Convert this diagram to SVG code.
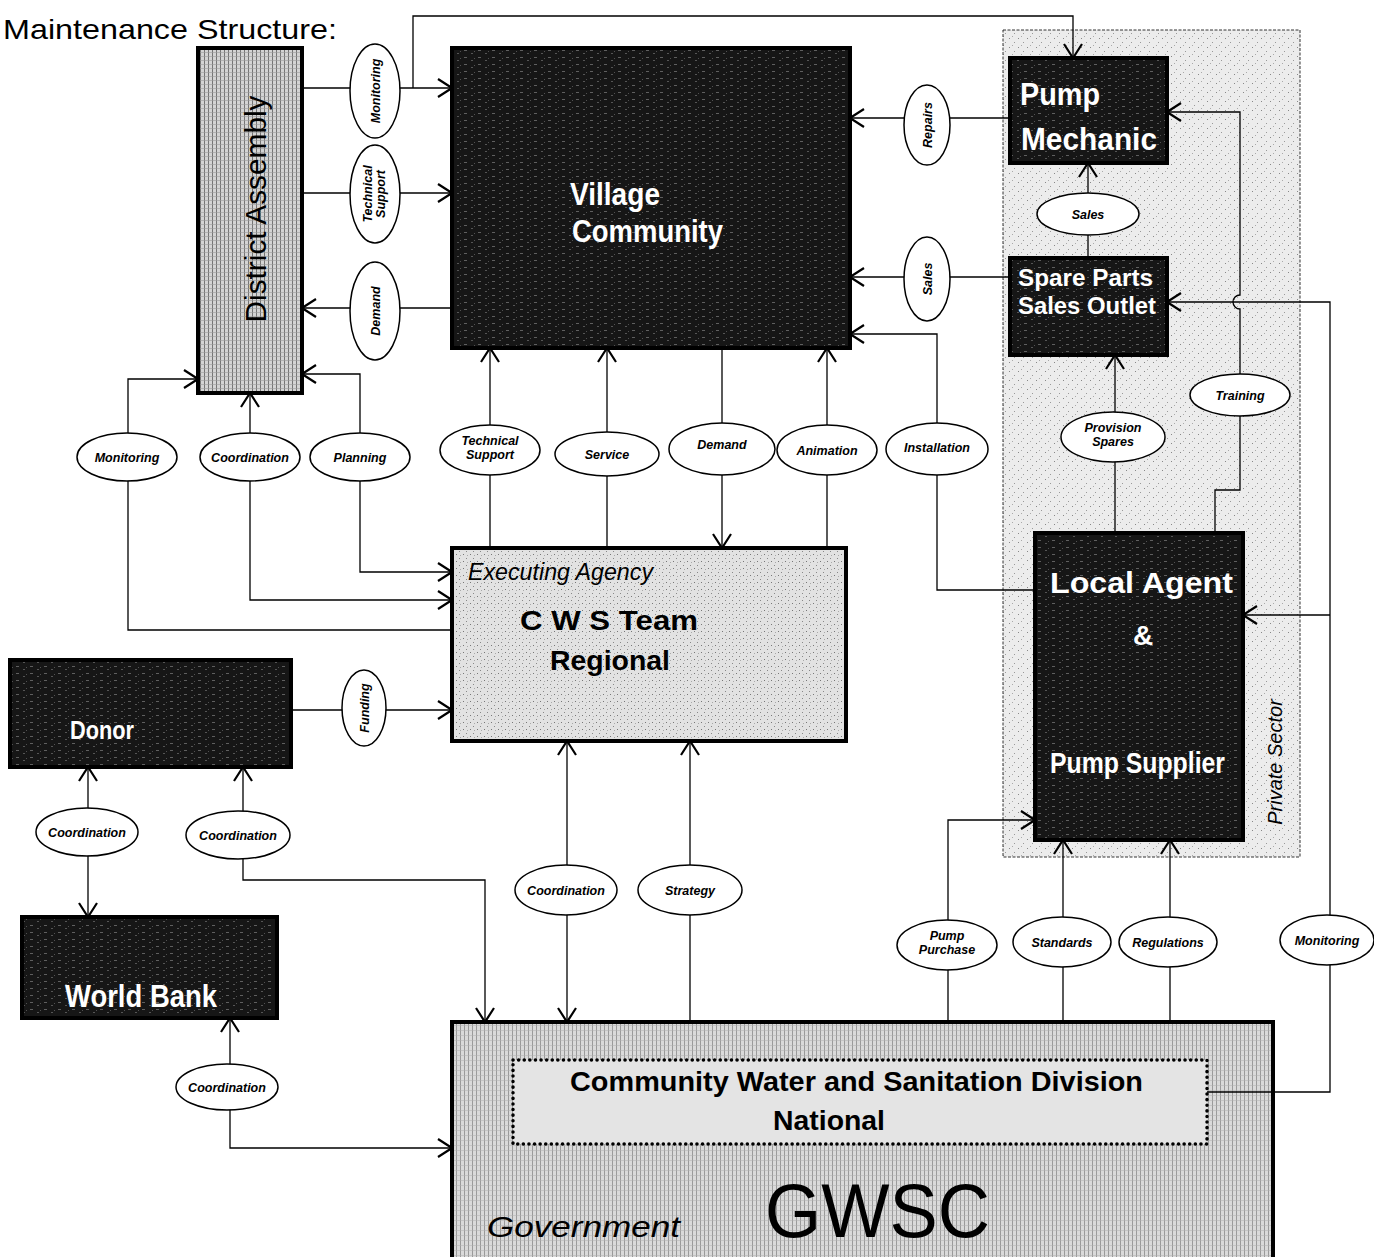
<svg xmlns="http://www.w3.org/2000/svg" width="1374" height="1257" viewBox="0 0 1374 1257">
<style>
.box{stroke:#000;stroke-width:4}
.dk{fill:url(#dark)}
.wt{fill:#fff;font-family:"Liberation Sans",Arial,sans-serif;font-weight:bold}
.bk{fill:#000;font-family:"Liberation Sans",Arial,sans-serif}
.ln{fill:none;stroke:#000;stroke-width:1.3}
.ar{marker-end:url(#ah)}
.ar2{marker-start:url(#ah);marker-end:url(#ah)}
.lbl ellipse{fill:#fff;stroke:#000;stroke-width:1.5}
.lbl text{font-family:"Liberation Sans",Arial,sans-serif;font-style:italic;font-weight:bold;font-size:12.5px;text-anchor:middle;fill:#000}
</style>
<defs>
<marker id="ah" viewBox="0 0 16 20" refX="15" refY="10" markerWidth="16" markerHeight="20" markerUnits="userSpaceOnUse" orient="auto-start-reverse">
<path d="M1,1 L15,10 L1,19" fill="none" stroke="#000" stroke-width="2.2"/>
</marker>
<pattern id="grid" width="4" height="4" patternUnits="userSpaceOnUse">
<rect width="4" height="4" fill="#d4d4d4"/>
<path d="M0.5,0 V4" stroke="#6a6a6a" stroke-width="0.9"/>
<path d="M0,0.5 H4" stroke="#9a9a9a" stroke-width="0.6"/>
</pattern>
<pattern id="grid2" width="4" height="5" patternUnits="userSpaceOnUse">
<rect width="4" height="5" fill="#dadada"/>
<path d="M0.5,0 V5" stroke="#8a8a8a" stroke-width="0.8"/>
<path d="M0,0.5 H4" stroke="#b0b0b0" stroke-width="0.5"/>
</pattern>
<pattern id="dark" width="14" height="7" patternUnits="userSpaceOnUse">
<rect width="14" height="7" fill="#161616"/>
<rect x="2" y="1" width="3" height="0.9" fill="#fff" opacity="0.35"/>
<rect x="9" y="4" width="2" height="0.9" fill="#fff" opacity="0.3"/>
<rect x="12" y="2" width="1" height="1" fill="#fff" opacity="0.25"/>
</pattern>
<pattern id="speck" width="9" height="9" patternUnits="userSpaceOnUse">
<rect width="9" height="9" fill="#ececec"/>
<rect x="1" y="2" width="1" height="1" fill="#888"/>
<rect x="6" y="6" width="1" height="1" fill="#999"/>
<rect x="4" y="0" width="1" height="1" fill="#aaa"/>
</pattern>
<pattern id="speck2" width="7" height="7" patternUnits="userSpaceOnUse">
<rect width="7" height="7" fill="#e2e2e2"/>
<rect x="1" y="1" width="1" height="1" fill="#777"/>
<rect x="4" y="5" width="1" height="1" fill="#888"/>
<rect x="5" y="2" width="1" height="1" fill="#aaa"/>
</pattern>
</defs>

<rect width="1374" height="1257" fill="#fff"/>

<g id="title">
<text class="bk" x="3" y="39" font-size="28" textLength="334" lengthAdjust="spacingAndGlyphs">Maintenance Structure:</text>
</g>

<g id="private-sector">
<rect x="1003" y="30" width="297" height="827" fill="url(#speck)" stroke="#333" stroke-width="1" stroke-dasharray="3 1.5"/>
<text class="bk" transform="translate(1282,762) rotate(-90)" text-anchor="middle" font-size="20" font-style="italic" fill="#222">Private Sector</text>
</g>

<g id="district-assembly">
<rect class="box" x="198" y="48" width="104" height="345" fill="url(#grid)"/>
<text class="bk" transform="translate(266,209) rotate(-90)" text-anchor="middle" font-size="30" textLength="227" lengthAdjust="spacingAndGlyphs">District Assembly</text>
</g>

<g id="village-community">
<rect class="box dk" x="452" y="48" width="398" height="300"/>
<text class="wt" x="570" y="205" font-size="32" textLength="90" lengthAdjust="spacingAndGlyphs">Village</text>
<text class="wt" x="572" y="242" font-size="31" textLength="151" lengthAdjust="spacingAndGlyphs">Community</text>
</g>

<g id="pump-mechanic">
<rect class="box dk" x="1010" y="58" width="157" height="105"/>
<text class="wt" x="1020" y="105" font-size="32" textLength="80" lengthAdjust="spacingAndGlyphs">Pump</text>
<text class="wt" x="1021" y="150" font-size="32" textLength="136" lengthAdjust="spacingAndGlyphs">Mechanic</text>
</g>

<g id="spare-parts">
<rect class="box dk" x="1010" y="258" width="157" height="97"/>
<text class="wt" x="1018" y="286" font-size="24" textLength="135" lengthAdjust="spacingAndGlyphs">Spare Parts</text>
<text class="wt" x="1018" y="314" font-size="24" textLength="138" lengthAdjust="spacingAndGlyphs">Sales Outlet</text>
</g>

<g id="local-agent">
<rect class="box dk" x="1035" y="533" width="208" height="307"/>
<text class="wt" x="1050" y="593" font-size="29" textLength="183" lengthAdjust="spacingAndGlyphs">Local Agent</text>
<text class="wt" x="1143" y="645" font-size="28" text-anchor="middle">&amp;</text>
<text class="wt" x="1050" y="773" font-size="29" textLength="175" lengthAdjust="spacingAndGlyphs">Pump Supplier</text>
</g>

<g id="cws-team">
<rect class="box" x="452" y="548" width="394" height="193" fill="url(#speck2)"/>
<text class="bk" x="468" y="580" font-size="23" font-style="italic" textLength="185" lengthAdjust="spacingAndGlyphs">Executing Agency</text>
<text class="bk" x="520" y="630" font-size="28" font-weight="bold" textLength="178" lengthAdjust="spacingAndGlyphs">C W S Team</text>
<text class="bk" x="550" y="670" font-size="28" font-weight="bold" textLength="120" lengthAdjust="spacingAndGlyphs">Regional</text>
</g>

<g id="donor">
<rect class="box dk" x="10" y="660" width="281" height="107"/>
<text class="wt" x="70" y="739" font-size="26" textLength="64" lengthAdjust="spacingAndGlyphs">Donor</text>
</g>

<g id="world-bank">
<rect class="box dk" x="22" y="917" width="255" height="101"/>
<text class="wt" x="65" y="1007" font-size="31" textLength="152" lengthAdjust="spacingAndGlyphs">World Bank</text>
</g>

<g id="gwsc">
<rect class="box" x="452" y="1022" width="821" height="245" fill="url(#grid2)"/>
<rect x="513" y="1060" width="694" height="84" fill="#e4e4e4" stroke="#000" stroke-width="3.5" stroke-dasharray="0.1 5.5" stroke-linecap="round"/>
<text class="bk" x="570" y="1091" font-size="28" font-weight="bold" textLength="573" lengthAdjust="spacingAndGlyphs">Community Water and Sanitation Division</text>
<text class="bk" x="773" y="1130" font-size="28" font-weight="bold" textLength="112" lengthAdjust="spacingAndGlyphs">National</text>
<text class="bk" x="765" y="1237" font-size="76" textLength="225" lengthAdjust="spacingAndGlyphs">GWSC</text>
<text class="bk" x="487" y="1237" font-size="30" font-style="italic" fill="#222" textLength="193" lengthAdjust="spacingAndGlyphs">Government</text>
</g>

<g id="connectors">
<path class="ln ar" d="M302,88 H452"/>
<path class="ln ar" d="M413,88 V16 H1073 V58"/>
<path class="ln ar" d="M302,193 H452"/>
<path class="ln ar" d="M452,308 H302"/>
<path class="ln ar" d="M452,630 H128 V379 H198"/>
<path class="ln ar2" d="M250,393 V600 H452"/>
<path class="ln ar2" d="M302,374 H360 V572 H452"/>
<path class="ln ar" d="M490,548 V348"/>
<path class="ln ar" d="M607,548 V348"/>
<path class="ln ar" d="M722,348 V548"/>
<path class="ln ar" d="M827,548 V348"/>
<path class="ln ar" d="M1035,590 H937 V334 H850"/>
<path class="ln ar" d="M1010,118 H850"/>
<path class="ln ar" d="M1010,277 H850"/>
<path class="ln ar" d="M1088,258 V163"/>
<path class="ln ar" d="M1115,533 V355"/>
<path class="ln ar" d="M1215,533 V490 H1240 V309 A7,7 0 0 1 1240,295 V112 H1167"/>
<path class="ln ar" d="M1207,1092 H1330 V302 H1167"/>
<path class="ln ar" d="M1330,615 H1243"/>
<path class="ln ar" d="M948,1022 V820 H1035"/>
<path class="ln ar" d="M1063,1022 V840"/>
<path class="ln ar" d="M1170,1022 V840"/>
<path class="ln ar" d="M291,710 H452"/>
<path class="ln ar2" d="M567,741 V1022"/>
<path class="ln ar" d="M690,1022 V741"/>
<path class="ln ar2" d="M88,767 V917"/>
<path class="ln ar2" d="M243,767 V880 H485 V1022"/>
<path class="ln ar2" d="M230,1018 V1148 H452"/>
</g>

<g id="edge-labels" class="lbl">
<ellipse cx="375" cy="91" rx="25" ry="47"/>
<text transform="translate(375,91) rotate(-90)" y="4.5">Monitoring</text>
<ellipse cx="375" cy="194" rx="25" ry="49"/>
<text transform="translate(375,194) rotate(-90)" y="-3">Technical</text>
<text transform="translate(375,194) rotate(-90)" y="10">Support</text>
<ellipse cx="375" cy="311" rx="25" ry="49"/>
<text transform="translate(375,311) rotate(-90)" y="4.5">Demand</text>
<ellipse cx="927" cy="125" rx="23" ry="40"/>
<text transform="translate(927,125) rotate(-90)" y="4.5">Repairs</text>
<ellipse cx="927" cy="279" rx="23" ry="42"/>
<text transform="translate(927,279) rotate(-90)" y="4.5">Sales</text>
<ellipse cx="364" cy="708" rx="22" ry="38"/>
<text transform="translate(364,708) rotate(-90)" y="4.5">Funding</text>

<ellipse cx="1088" cy="214" rx="51" ry="21"/>
<text x="1088" y="218.5">Sales</text>
<ellipse cx="1113" cy="437" rx="52" ry="25"/>
<text x="1113" y="432">Provision</text>
<text x="1113" y="446">Spares</text>
<ellipse cx="1240" cy="395" rx="50" ry="21"/>
<text x="1240" y="399.5">Training</text>

<ellipse cx="127" cy="457" rx="50" ry="24"/>
<text x="127" y="461.5">Monitoring</text>
<ellipse cx="250" cy="457" rx="50" ry="24"/>
<text x="250" y="461.5">Coordination</text>
<ellipse cx="360" cy="457" rx="50" ry="24"/>
<text x="360" y="461.5">Planning</text>
<ellipse cx="490" cy="450" rx="50" ry="25"/>
<text x="490" y="445">Technical</text>
<text x="490" y="459">Support</text>
<ellipse cx="607" cy="454" rx="52" ry="22"/>
<text x="607" y="458.5">Service</text>
<ellipse cx="722" cy="449" rx="53" ry="26"/>
<text x="722" y="449">Demand</text>
<ellipse cx="827" cy="450" rx="50" ry="25"/>
<text x="827" y="454.5">Animation</text>
<ellipse cx="937" cy="449" rx="51" ry="26"/>
<text x="937" y="452">Installation</text>

<ellipse cx="87" cy="832" rx="51" ry="24"/>
<text x="87" y="836.5">Coordination</text>
<ellipse cx="238" cy="835" rx="52" ry="24"/>
<text x="238" y="839.5">Coordination</text>
<ellipse cx="227" cy="1087" rx="51" ry="23"/>
<text x="227" y="1091.5">Coordination</text>
<ellipse cx="566" cy="890" rx="51" ry="25"/>
<text x="566" y="894.5">Coordination</text>
<ellipse cx="690" cy="890" rx="52" ry="25"/>
<text x="690" y="894.5">Strategy</text>

<ellipse cx="947" cy="945" rx="50" ry="25"/>
<text x="947" y="940">Pump</text>
<text x="947" y="954">Purchase</text>
<ellipse cx="1062" cy="942" rx="49" ry="25"/>
<text x="1062" y="946.5">Standards</text>
<ellipse cx="1168" cy="942" rx="49" ry="25"/>
<text x="1168" y="946.5">Regulations</text>
<ellipse cx="1327" cy="940" rx="47" ry="25"/>
<text x="1327" y="944.5">Monitoring</text>
</g>
</svg>
